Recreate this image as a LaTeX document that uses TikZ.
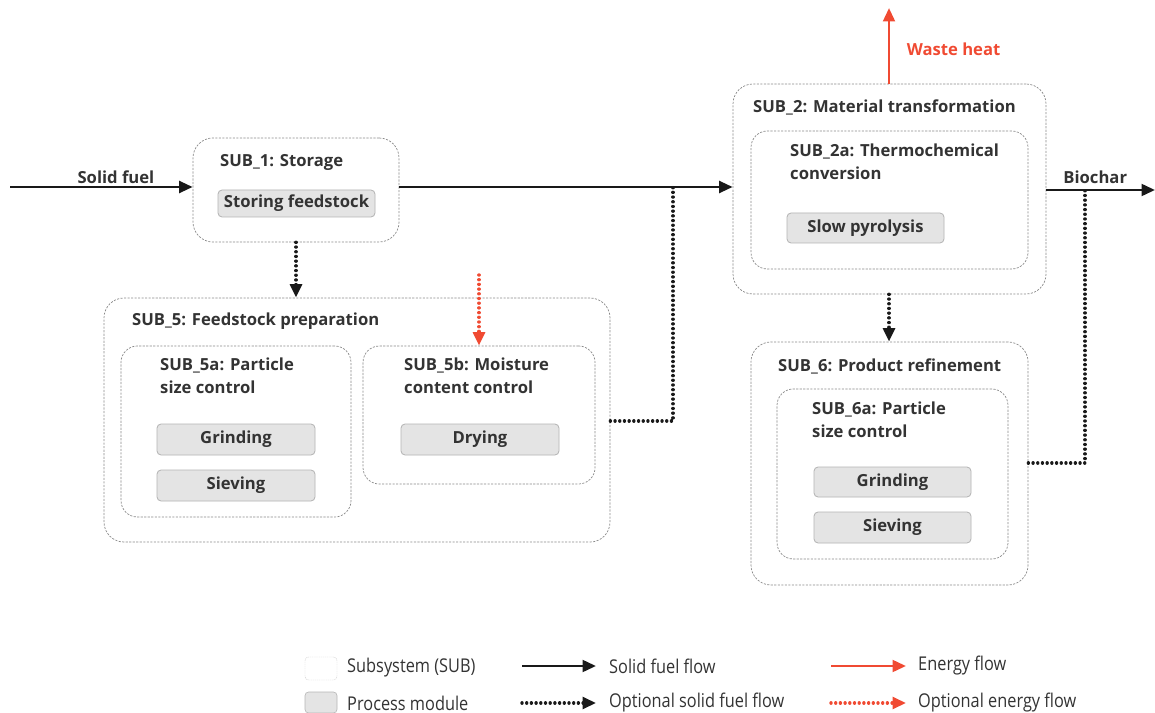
\documentclass[tikz,border=0pt]{standalone}
\usepackage{fontspec}
\setmainfont{Open Sans}
\newfontfamily\legendfont[FakeStretch=0.86]{Open Sans}
\usetikzlibrary{arrows.meta,fit,positioning}
\definecolor{txt}{HTML}{333333}
\definecolor{heat}{HTML}{F04A32}
\definecolor{modfill}{HTML}{E4E4E4}
\definecolor{modline}{HTML}{B4B4B4}
\definecolor{subline}{HTML}{8A8A8A}
\tikzset{
  sub/.style={draw=subline, line width=0.6pt, dash pattern=on 1.8pt off 1.2pt,
    rounded corners=17pt, inner sep=0pt, fill=white},
  subin/.style={sub, rounded corners=14pt},
  ttl/.style={anchor=west, text=txt, font=\bfseries\fontsize{14.2}{19.2}\selectfont,
    inner sep=0pt, align=left},
  pmod/.style={draw=modline, fill=modfill, rounded corners=3.5pt, line width=0.7pt,
    inner sep=0pt},
  tip/.style={-{Triangle[length=11.5pt,width=10pt,line cap=butt]}},
  dots/.style={line width=2.9pt, line cap=round, dash pattern=on 0.01pt off 4pt},
  flow/.style={line width=2.4pt, draw=black!90, tip},
  oflow/.style={dots, draw=black!90, tip},
  ojoin/.style={dots, draw=black!90},
  eflow/.style={line width=2.4pt, draw=heat, tip},
  oeflow/.style={dots, draw=heat, tip},
  lbl/.style={text=txt, font=\bfseries\fontsize{14.2}{17}\selectfont, inner sep=0pt},
  leg/.style={anchor=west, text=txt, font=\legendfont\fontsize{16.2}{18}\selectfont, inner sep=0pt},
}
\begin{document}
\begin{tikzpicture}[x=0.03cm,y=-0.03cm]
\useasboundingbox (0,0) rectangle (1155,713);

% ---- SUB_1: storage
\node[sub, fit={(193,138) (399,242)}] (s1) {};
\node[ttl] (s1t) at (220,162) {SUB\_1: Storage};
\node[pmod, fit={(218,190) (375,217)}] (p1) {};
\node[lbl] at (p1.center) {Storing feedstock};

% ---- SUB_2: material transformation
\node[sub, fit={(733,84) (1046,294)}] (s2) {};
\node[ttl] (s2t) at (753,107) {SUB\_2: Material transformation};
\node[subin, fit={(751,131) (1028,269)}] (s2a) {};
\node[ttl] (s2at) at (790,162) {SUB\_2a: Thermochemical\\conversion};
\node[pmod, fit={(787,213) (944,243)}] (p2) {};
\node[lbl] at (p2.center) {Slow pyrolysis};

% ---- SUB_5: feedstock preparation
\node[sub, fit={(104,298) (610,542)}] (s5) {};
\node[ttl] (s5t) at (132,321) {SUB\_5: Feedstock preparation};
\node[subin, fit={(121,346) (351,517)}] (s5a) {};
\node[ttl] (s5at) at (160,376) {SUB\_5a: Particle\\size control};
\node[pmod, fit={(157,424) (315,455)}] (p5g) {};
\node[lbl] at (p5g.center) {Grinding};
\node[pmod, fit={(157,470) (315,501)}] (p5s) {};
\node[lbl] at (p5s.center) {Sieving};
\node[subin, fit={(363,346) (595,484)}] (s5b) {};
\node[ttl] (s5bt) at (404,376) {SUB\_5b: Moisture\\content control};
\node[pmod, fit={(401,424) (559,455)}] (p5d) {};
\node[lbl] at (p5d.center) {Drying};

% ---- SUB_6: product refinement
\node[sub, fit={(751,342) (1028,585)}] (s6) {};
\node[ttl] (s6t) at (778,366) {SUB\_6: Product refinement};
\node[subin, fit={(777,389) (1008,559)}] (s6a) {};
\node[ttl] (s6at) at (812,420) {SUB\_6a: Particle\\size control};
\node[pmod, fit={(814,467) (971,497)}] (p6g) {};
\node[lbl] at (p6g.center) {Grinding};
\node[pmod, fit={(814,512) (971,543)}] (p6s) {};
\node[lbl] at (p6s.center) {Sieving};

% ---- flow end points
\coordinate (in)  at (10,187);
\coordinate (out) at (1155,190);
\coordinate (heatend) at (889,8);
\coordinate (dryin) at (479,275);
\coordinate (j5) at (673,187);
\coordinate (j6) at (1085,190);

% ---- optional solid fuel flows (drawn first, solid lines lie on top)
\draw[ojoin] (s5.east |- 0,421) -| (j5);
\draw[ojoin] (s6.east |- 0,463) -| (j6);
\draw[oflow] (s1.south -| 296,0) -- (s5.north -| 296,0);
\draw[oflow] (s2.south -| 889,0) -- (s6.north -| 889,0);

% ---- solid fuel flows
\draw[flow] (in) -- (s1.west |- in) node[lbl, pos=0.58, above=2pt] {Solid fuel};
\draw[flow] (s1.east |- in) -- (s2.west |- in);
\draw[flow] (s2.east |- out) -- (out) node[lbl, pos=0.45, above=4pt] {Biochar};

% ---- energy flows
\draw[eflow] (s2.north -| heatend) -- (heatend)
  node[lbl, text=heat, pos=0.46, right=14pt] {Waste heat};
\draw[oeflow] (dryin) -- (s5b.north -| dryin);

% ---- legend
\node[draw=modline!60, dash pattern=on 1pt off 0.6pt, line width=0.4pt, rounded corners=3pt,
  fill=white, fit={(305,657) (337,680)}, inner sep=0pt] (lsub) {};
\node[leg] at (347,668) {Subsystem (SUB)};
\node[draw=modline, fill=modfill, rounded corners=3pt, line width=0.5pt,
  fit={(305,692) (337,713)}, inner sep=0pt] (lmod) {};
\node[leg] at (347,703) {Process module};
\coordinate (la1) at (522,666); \coordinate (lb1) at (596,666);
\coordinate (la2) at (522,703); \coordinate (lb2) at (596,703);
\coordinate (la3) at (831,666); \coordinate (lb3) at (906,666);
\coordinate (la4) at (831,703); \coordinate (lb4) at (906,703);
\draw[flow] (la1) -- (lb1);
\draw[oflow] (la2) -- (lb2);
\draw[eflow] (la3) -- (lb3);
\draw[oeflow] (la4) -- (lb4);
\node[leg] at (609,666) {Solid fuel flow};
\node[leg] at (609,703) {Optional solid fuel flow};
\node[leg] at (918,666) {Energy flow};
\node[leg] at (918,703) {Optional energy flow};
\end{tikzpicture}
\end{document}
